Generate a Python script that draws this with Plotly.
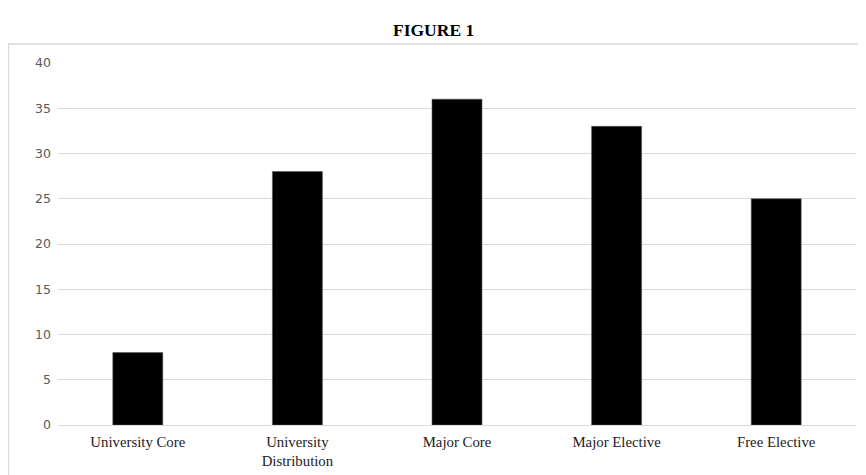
import plotly.graph_objects as go

categories = ["University Core", "University<br>Distribution", "Major Core", "Major Elective", "Free Elective"]
values = [8, 28, 36, 33, 25]
y_ticks = [0, 5, 10, 15, 20, 25, 30, 35, 40]
title_text = "FIGURE 1"

# page is rendered with an 8px body margin, so figure coords = page coords - 8
W, H = 866, 475
L, R, T, B = 50, 18, 55, 58
pw, ph = W - L - R, H - T - B

def fx(px):
    return (px - L) / pw

def fy(py):
    return (H - B - py) / ph

fig = go.Figure(go.Bar(x=categories, y=values,
                       marker=dict(color="black", line=dict(width=0.6, color="#555")),
                       width=0.313))

fig.update_layout(
    width=W, height=H,
    margin=dict(l=L, r=R, t=T, b=B),
    plot_bgcolor="white", paper_bgcolor="white",
    showlegend=False,
    xaxis=dict(showgrid=False, showline=True, linecolor="#d9d9d9", linewidth=1, ticks="",
               tickfont=dict(family="Liberation Serif", size=14.8, color="#222"),
               ticklabelstandoff=3, fixedrange=True),
    yaxis=dict(range=[0, 40], tickvals=y_ticks, showgrid=True, gridcolor="#d9d9d9", gridwidth=1,
               zeroline=False, showline=False, ticks="",
               tickfont=dict(family="DejaVu Sans", size=12.5, color="#595959"),
               ticklabelstandoff=6),
    annotations=[dict(text="<b>" + title_text + "</b>", xref="paper", yref="paper",
                      x=fx(425), y=fy(22), xanchor="center", yanchor="middle", showarrow=False,
                      font=dict(family="Liberation Serif", size=17.5, color="black"))],
    shapes=[dict(type="rect", xref="paper", yref="paper",
                 x0=fx(0.5), x1=fx(851),
                 y0=fy(480), y1=fy(36),
                 line=dict(color="#d9d9d9", width=1.5), fillcolor="rgba(0,0,0,0)", layer="below")],
)

fig.write_html("out.html")
